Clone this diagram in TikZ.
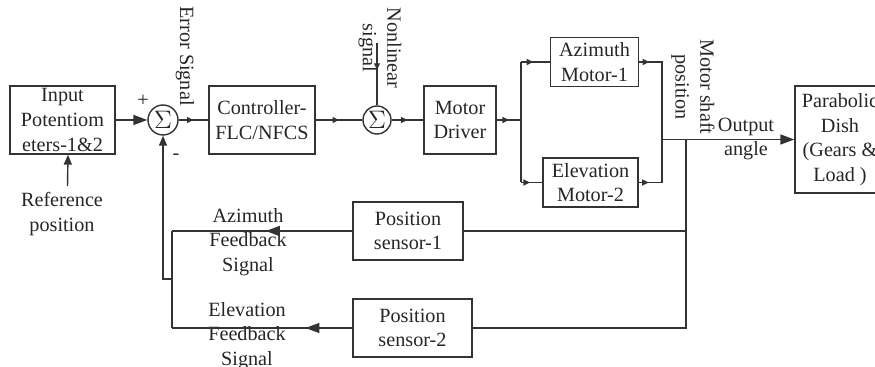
\documentclass[tikz,border=0pt]{standalone}
\usepackage{fontspec}
\setmainfont{Liberation Serif}
\usetikzlibrary{arrows.meta,decorations.markings}

\begin{document}
\begin{tikzpicture}[x=0.02cm, y=-0.02cm,
	every node/.style={font=\fontsize{11.5}{14}\selectfont, text=black!85},
	block/.style={draw=black!80, line width=0.8pt, align=center, inner sep=1pt},
	sumnode/.style={draw=black!80, line width=0.8pt, circle, minimum size=0.6cm, inner sep=0pt, font=\fontsize{15}{15}\selectfont},
	wire/.style={draw=black!80, line width=0.8pt},
	bigtip/.style={-{Triangle[length=2.8mm,width=2mm]}},
	medtip/.style={-{Triangle[length=2mm,width=1.6mm]}},
	midarrow/.style={postaction={decorate}, decoration={markings,
		mark=at position #1 with {\arrow{Triangle[length=1.3mm,width=1.2mm]}}}},
	midarrow/.default=0.5,
	midbig/.style={postaction={decorate}, decoration={markings,
		mark=at position #1 with {\arrow{Triangle[length=2.8mm,width=2mm]}}}}]
	\clip (0,0) rectangle (875,367);
	% blocks
	\node[block, minimum width=2.1cm, minimum height=1.36cm] (inp) at (62.5,120) {Input\\Potentiom\\eters-1\&2};
	\node[sumnode] (s1) at (163,120) {$\Sigma$};
	\node[block, minimum width=2.12cm, minimum height=1.36cm] (ctrl) at (262,120) {Controller-\\FLC/NFCS};
	\node[sumnode, minimum size=0.56cm] (s2) at (377,120) {$\Sigma$};
	\node[block, minimum width=1.44cm, minimum height=1.36cm] (drv) at (460,120) {Motor\\Driver};
	\node[block, minimum width=1.76cm, minimum height=0.98cm] (azm) at (594.5,62) {Azimuth\\Motor-1};
	\node[block, minimum width=1.9cm, minimum height=0.98cm] (elv) at (590.5,182.5) {Elevation\\Motor-2};
	\node[block, minimum width=1.8cm, minimum height=2.14cm] (dish) at (840,139.5) {Parabolic\\Dish\\(Gears \&\\Load )};
	\node[block, minimum width=2.2cm, minimum height=1.16cm] (ps1) at (408,231) {Position\\sensor-1};
	\node[block, minimum width=2.38cm, minimum height=1.16cm] (ps2) at (412.5,328) {Position\\sensor-2};
	% labels
	\node[align=center] (ref) at (62,214) {Reference\\position};
	\node[rotate=-90] (err) at (185,56) {Error Signal};
	\node[rotate=-90, align=center] (nls) at (380,48) {Nonlinear\\signal};
	\node[rotate=-90, align=center] (msp) at (693,87) {Motor shaft\\position};
	\node[align=center] (out) at (746,139) {Output\\angle};
	\node (plus) at (143,101) {+};
	\node (minus) at (176,157) {-};
	\node[align=center] (azfb) at (248,242) {Azimuth\\Feedback\\Signal};
	\node[align=center] (elfb) at (247,336) {Elevation\\Feedback\\Signal};
	% branch points
	\coordinate (nl) at (377,43);
	\coordinate (br) at (521,120);
	\coordinate (bt) at (521,62);
	\coordinate (bb) at (521,182.5);
	\coordinate (jr) at (662,139.5);
	\coordinate (fb) at (686,139.5);
	\coordinate (fl1) at (172,231);
	\coordinate (fl2) at (172,328);
	\coordinate (fm) at (172,279);
	% forward path
	\draw[wire, bigtip] (inp) -- (s1);
	\draw[wire, medtip] ([xshift=0.11cm]ref.north) -- ([xshift=0.11cm]inp.south);
	\draw[wire, midarrow] (s1) -- (ctrl);
	\draw[wire, midarrow] (ctrl) -- (s2);
	\draw[wire, midarrow=0.43] (nl) -- (s2);
	\draw[wire, midarrow] (s2) -- (drv);
	\draw[wire, midarrow] (drv) -- (br);
	\draw[wire] (bt) -- (bb);
	\draw[wire, midarrow=0.42] (bt) -- (azm);
	\draw[wire, midarrow=0.42] (bb) -- (elv);
	\draw[wire, midarrow=0.2cm] (azm.east) -- (azm.east -| jr) -- (jr);
	\draw[wire, midarrow=0.2cm] (elv.east) -- (elv.east -| jr) -- (jr);
	\draw[wire, bigtip] (jr) -- (dish);
	% feedback path
	\draw[wire] (fb) |- (ps2);
	\draw[wire] (ps1.east -| fb) -- (ps1);
	\draw[wire, midbig=0.48] (ps1) -- (fl1);
	\draw[wire, midbig=0.26] (ps2) -- (fl2);
	\draw[wire] (fl1) -- (fl2);
	\draw[wire, medtip] (fm) -| (s1.south);
\end{tikzpicture}
\end{document}
